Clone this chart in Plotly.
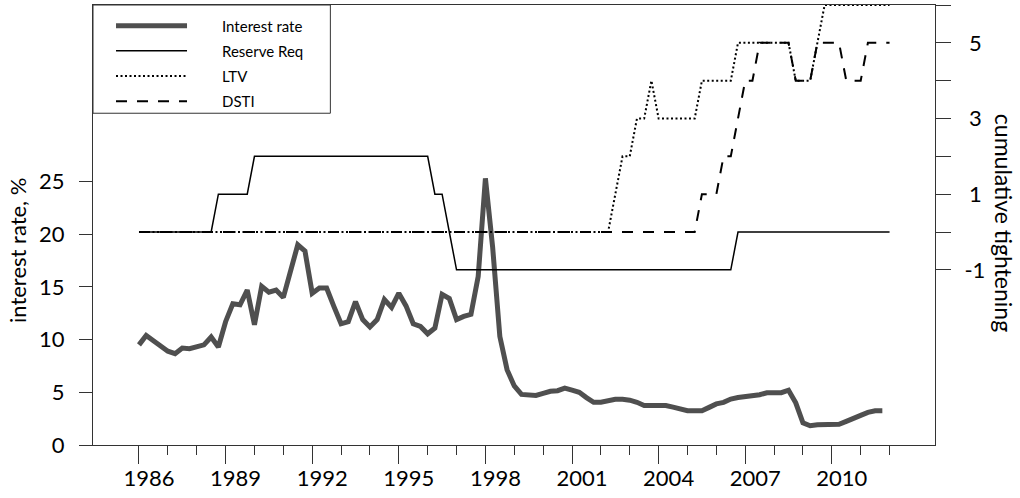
import plotly.graph_objects as go

# ---------------- data (quarterly, starting 1986 Q1) ----------------
start_year = 1986

interest_rate = [
    9.5, 10.4, 9.9, 9.35, 8.9, 8.66, 9.2, 9.14, 9.3, 9.5,
    10.25, 9.3, 11.7, 13.4, 13.3, 14.7, 11.4, 15.05, 14.5, 14.7,
    14.0, 16.3, 19.0, 18.4, 14.4, 14.9, 14.9, 13.15, 11.5, 11.7,
    13.6, 11.9, 11.2, 11.9, 13.8, 13.05, 14.4, 13.2, 11.5, 11.25,
    10.55, 11.1, 14.3, 13.9, 11.9, 12.2, 12.4, 16.0, 25.3, 18.8,
    10.3, 7.15, 5.6, 4.8, 4.75, 4.7, 4.9, 5.1, 5.15, 5.4,
    5.2, 5.0, 4.5, 4.05, 4.05, 4.25, 4.33, 4.33, 4.25, 4.05,
    3.75, 3.75, 3.75, 3.75, 3.6, 3.38, 3.25, 3.25, 3.25, 3.57,
    3.9, 4.05, 4.36, 4.5, 4.58, 4.58, 4.77, 4.96, 4.96, 4.96,
    5.2, 4.0, 2.1, 1.83, 1.93, 1.96, 1.96, 1.96, 2.24, 2.47,
    2.81, 3.09, 3.25, 3.25,
]

reserve_req = [
    0, 0, 0, 0, 0, 0, 0, 0, 0, 0,
    0, 1, 1, 1, 1, 1, 2, 2, 2, 2,
    2, 2, 2, 2, 2, 2, 2, 2, 2, 2,
    2, 2, 2, 2, 2, 2, 2, 2, 2, 2,
    2, 1, 1, 0, -1, -1, -1, -1, -1, -1,
    -1, -1, -1, -1, -1, -1, -1, -1, -1, -1,
    -1, -1, -1, -1, -1, -1, -1, -1, -1, -1,
    -1, -1, -1, -1, -1, -1, -1, -1, -1, -1,
    -1, -1, -1, 0, 0, 0, 0, 0, 0, 0,
    0, 0, 0, 0, 0, 0, 0, 0, 0, 0,
    0, 0, 0, 0, 0,
]

ltv = [
    0, 0, 0, 0, 0, 0, 0, 0, 0, 0,
    0, 0, 0, 0, 0, 0, 0, 0, 0, 0,
    0, 0, 0, 0, 0, 0, 0, 0, 0, 0,
    0, 0, 0, 0, 0, 0, 0, 0, 0, 0,
    0, 0, 0, 0, 0, 0, 0, 0, 0, 0,
    0, 0, 0, 0, 0, 0, 0, 0, 0, 0,
    0, 0, 0, 0, 0, 0, 1, 2, 2, 3,
    3, 4, 3, 3, 3, 3, 3, 3, 4, 4,
    4, 4, 4, 5, 5, 5, 5, 5, 5, 5,
    5, 4, 4, 4, 5, 6, 6, 6, 6, 6,
    6, 6, 6, 6, 6,
]

dsti = [
    0, 0, 0, 0, 0, 0, 0, 0, 0, 0,
    0, 0, 0, 0, 0, 0, 0, 0, 0, 0,
    0, 0, 0, 0, 0, 0, 0, 0, 0, 0,
    0, 0, 0, 0, 0, 0, 0, 0, 0, 0,
    0, 0, 0, 0, 0, 0, 0, 0, 0, 0,
    0, 0, 0, 0, 0, 0, 0, 0, 0, 0,
    0, 0, 0, 0, 0, 0, 0, 0, 0, 0,
    0, 0, 0, 0, 0, 0, 0, 0, 1, 1,
    1, 2, 2, 3, 4, 4, 5, 5, 5, 5,
    5, 4, 4, 4, 5, 5, 5, 5, 4, 4,
    4, 5, 5, 5, 5,
]

series_names = ["Interest rate", "Reserve Req", "LTV", "DSTI"]
year_labels = [1986, 1989, 1992, 1995, 1998, 2001, 2004, 2007, 2010]
minor_years = [1987, 1988, 1990, 1991, 1993, 1994, 1996, 1997, 1999, 2000,
               2002, 2003, 2005, 2006, 2008, 2009, 2011, 2012]
left_ticks = [0, 5, 10, 15, 20, 25]
right_ticks = [-1, 0, 1, 2, 3, 4, 5, 6]
right_labels = ["-1", "", "1", "", "3", "", "5", ""]

# quarterly positions on the time axis
x_rate = [start_year + i / 4 for i in range(len(interest_rate))]
x_pol = [start_year + i / 4 for i in range(len(reserve_req))]

AX = "#333333"
FONT = "Lato"
PAD = "\u2002" * 4  # gap between legend sample line and its label


def legend_name(s):
    return PAD + s


def right_label(s):
    # right-align single-digit labels against "-1"
    return s if len(s) != 1 else "\u2008" + s


fig = go.Figure()
fig.add_trace(go.Scatter(x=x_rate, y=interest_rate, name=legend_name(series_names[0]), mode="lines",
                         line=dict(color="#4f4f4f", width=5), legendgroup="a"))
fig.add_trace(go.Scatter(x=x_pol, y=reserve_req, name=legend_name(series_names[1]), mode="lines",
                         line=dict(color="black", width=1.5), yaxis="y2", legendgroup="b"))
fig.add_trace(go.Scatter(x=x_pol, y=ltv, name=legend_name(series_names[2]), mode="lines",
                         line=dict(color="black", width=2, dash="2px,2.5px"), yaxis="y2", legendgroup="c"))
fig.add_trace(go.Scatter(x=x_pol, y=dsti, name=legend_name(series_names[3]), mode="lines",
                         line=dict(color="black", width=2, dash="11px,10px"), yaxis="y2", legendgroup="d"))

fig.update_layout(
    width=1020, height=498,
    margin=dict(l=93, r=85, t=5, b=53),
    plot_bgcolor="white", paper_bgcolor="white",
    font=dict(family=FONT, size=22, color="black"),
    showlegend=True,
    legend=dict(x=0.0214, y=0.990, xanchor="left", yanchor="top",
                bgcolor="rgba(0,0,0,0)", borderwidth=0,
                font=dict(family=FONT, size=15, color="black"),
                itemwidth=71, traceorder="grouped", tracegroupgap=2.7),
    xaxis=dict(range=[1984.407, 2013.574], tickmode="array", tickvals=year_labels,
               ticktext=[str(y) for y in year_labels],
               ticks="outside", ticklen=18, tickwidth=1, tickcolor=AX,
               showline=True, linecolor=AX, linewidth=1, mirror=True,
               showgrid=False, zeroline=False, ticklabelshift=10, ticklabelstandoff=-4,
               minor=dict(tickmode="array", tickvals=minor_years, ticks="outside",
                          ticklen=9, tickwidth=1, tickcolor=AX, showgrid=False)),
    yaxis=dict(range=[0, 41.75], tickmode="array", tickvals=left_ticks,
               ticks="outside", ticklen=13, tickwidth=1, tickcolor=AX,
               showline=True, linecolor=AX, linewidth=1,
               showgrid=False, zeroline=False, ticklabelstandoff=10),
    yaxis2=dict(range=[-5.63, 6.0], overlaying="y", side="right", tickmode="array",
                tickvals=right_ticks, ticktext=[right_label(s) for s in right_labels],
                ticks="outside", ticklen=15, tickwidth=1, tickcolor=AX,
                showline=True, linecolor=AX, linewidth=1,
                showgrid=False, zeroline=False, ticklabelstandoff=9),
    shapes=[dict(type="rect", xref="paper", yref="paper", x0=0, x1=0.2819,
                 y0=0.754, y1=1, line=dict(color=AX, width=1),
                 fillcolor="white", layer="below")],
    annotations=[
        dict(text="interest rate, %", xref="paper", yref="paper", x=-0.089, y=0.441,
             textangle=-90, showarrow=False, xanchor="center", yanchor="middle",
             font=dict(family=FONT, size=22, color="black")),
        dict(text="cumulative tightening", xref="paper", yref="paper", x=1.0815, y=0.5057,
             textangle=90, showarrow=False, xanchor="center", yanchor="middle",
             font=dict(family=FONT, size=23, color="black")),
    ],
)

fig.write_html(
    "out.html",
    config={"displayModeBar": False},
    post_script="document.body.style.margin='0px';document.body.style.overflow='hidden';",
)
